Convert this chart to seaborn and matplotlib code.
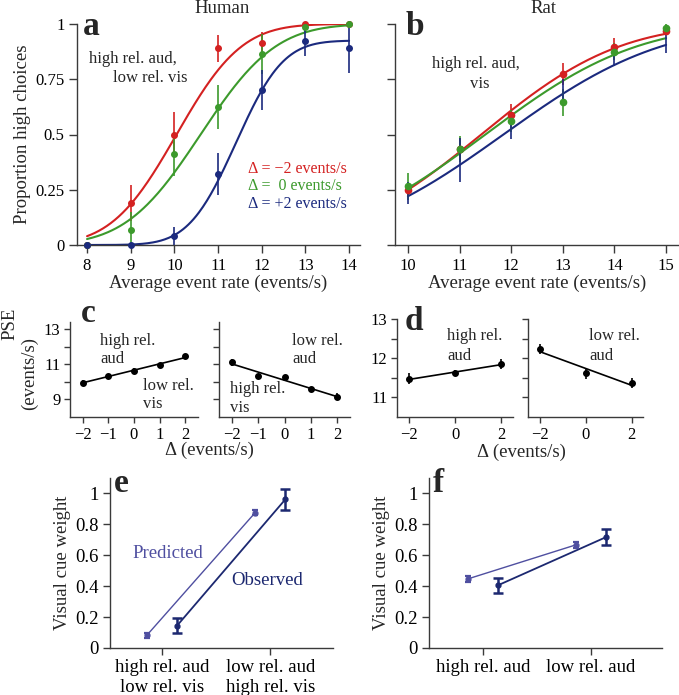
"""
Multisensory rate discrimination: human vs rat psychometric curves,
PSE shifts and visual cue weights
"""

import math
import numpy as np
import pandas as pd
import matplotlib
matplotlib.use("Agg")
import matplotlib.pyplot as plt
import seaborn as sns

# ==================== DATA ====================
# a: human psychometric data (proportion "high" choices)
human_rates = [8, 9, 10, 11, 12, 13, 14]
human_minus2 = [0.0, 0.19, 0.50, 0.89, 0.915, 1.0, 1.0]
human_minus2_err = [0.0, 0.08, 0.10, 0.06, 0.05, 0.0, 0.0]
human_zero = [0.0, 0.07, 0.41, 0.625, 0.865, 0.985, 1.0]
human_zero_err = [0.0, 0.08, 0.10, 0.10, 0.09, 0.02, 0.0]
human_plus2 = [0.0, 0.0, 0.04, 0.32, 0.70, 0.925, 0.89]
human_plus2_err = [0.0, 0.0, 0.04, 0.095, 0.09, 0.07, 0.11]
# fitted cumulative gaussians (mean, width, upper asymptote)
human_fit_mu = [10.05, 10.6, 11.41]
human_fit_sigma = [1.17, 1.35, 0.85]
human_fit_top = [1.0, 1.0, 0.925]

# b: rat psychometric data
rat_rates = [10, 11, 12, 13, 14, 15]
rat_minus2 = [0.25, 0.435, 0.59, 0.775, 0.895, 0.97]
rat_minus2_err = [0.03, 0.05, 0.05, 0.05, 0.04, 0.02]
rat_zero = [0.265, 0.435, 0.56, 0.645, 0.875, 0.98]
rat_zero_err = [0.06, 0.06, 0.05, 0.06, 0.04, 0.02]
rat_plus2 = [0.235, 0.385, 0.53, 0.69, 0.84, 0.91]
rat_plus2_err = [0.05, 0.10, 0.05, 0.06, 0.03, 0.04]
rat_fit_mu = [11.42, 11.5, 11.85]
rat_fit_sigma = [2.1, 2.3, 2.4]
rat_fit_top = [1.0, 1.0, 1.0]

conditions = ['Δ = −2 events/s', 'Δ =  0 events/s', 'Δ = +2 events/s']

# c: human PSE vs conflict
delta_c = [-2, -1, 0, 1, 2]
pse_c_aud = [9.95, 10.35, 10.62, 10.95, 11.44]
pse_c_aud_err = [0.13, 0.10, 0.14, 0.12, 0.12]
pse_c_vis = [11.1, 10.33, 10.26, 9.6, 9.15]
pse_c_vis_err = [0.2, 0.12, 0.15, 0.1, 0.2]

# d: rat PSE vs conflict
delta_d = [-2, 0, 2]
pse_d_high = [11.47, 11.62, 11.85]
pse_d_high_err = [0.14, 0.08, 0.12]
pse_d_low = [12.23, 11.62, 11.37]
pse_d_low_err = [0.13, 0.14, 0.12]

# e, f: visual cue weights
human_cats = ['high rel. aud\nlow rel. vis', 'low rel. aud\nhigh rel. vis']
human_pred = [0.082, 0.875]
human_pred_err = [0.015, 0.017]
human_obs = [0.145, 0.962]
human_obs_err = [0.05, 0.07]

rat_cats = ['high rel. aud', 'low rel. aud']
rat_pred = [0.447, 0.667]
rat_pred_err = [0.02, 0.022]
rat_obs = [0.406, 0.717]
rat_obs_err = [0.047, 0.05]

# ==================== STYLE ====================
sns.set_theme(style="ticks")
plt.rcParams['font.family'] = ['Liberation Serif', 'DejaVu Serif']
plt.rcParams['axes.edgecolor'] = '#3a3a3a'
plt.rcParams['xtick.color'] = '#3a3a3a'
plt.rcParams['ytick.color'] = '#3a3a3a'
plt.rcParams['xtick.labelcolor'] = 'black'
plt.rcParams['ytick.labelcolor'] = 'black'

COLORS = ['#d42121', '#3c9a2c', '#1b2a7e']
PRED_COLOR = '#4f4fa0'
OBS_COLOR = '#1c2870'
TICK_FS = 12
LABEL_FS = 13.5
NOTE_FS = 12

W, H = 679, 695
fig = plt.figure(figsize=(W / 100, H / 100), dpi=100)


def box(l, t, r, b):
    return fig.add_axes([l / W, 1 - b / H, (r - l) / W, (b - t) / H])


def ftext(x, y, s, **kw):
    kw.setdefault('va', 'baseline')
    fig.text(x / W, 1 - y / H, s, **kw)


def style(ax, ticklen=6, fs=TICK_FS):
    sns.despine(ax=ax)
    ax.tick_params(direction='out', length=ticklen, width=1, labelsize=fs, pad=3)
    for s in ['left', 'bottom']:
        ax.spines[s].set_linewidth(1)
    ax.set_facecolor('white')


def cum_gauss(x, mu, sigma, top):
    erf = np.vectorize(math.erf)
    return top * 0.5 * (1 + erf((x - mu) / (sigma * math.sqrt(2))))


def psych_panel(ax, rates, series, errs, mus, sigmas, tops, sizes):
    grid = np.linspace(rates[0], rates[-1], 200)
    curves = pd.concat([
        pd.DataFrame({'rate': grid, 'p': cum_gauss(grid, m, s, t), 'cond': c})
        for c, m, s, t in zip(conditions, mus, sigmas, tops)
    ])
    sns.lineplot(data=curves, x='rate', y='p', hue='cond', palette=COLORS,
                 estimator=None, legend=False, linewidth=1.5, ax=ax)
    for vals, err, col, ms in zip(series, errs, COLORS, sizes):
        ax.errorbar(rates, vals, yerr=err, fmt='o', ms=ms, color=col,
                    elinewidth=1.2, capsize=0, clip_on=False, zorder=3)
    ax.set_ylim(0, 1.0)
    ax.set_yticks([0, 0.25, 0.5, 0.75, 1])
    ax.set_xticks(rates)
    ax.set_xlabel('Average event rate (events/s)', fontsize=LABEL_FS, labelpad=1)
    ax.set_ylabel('')


# ==================== a: HUMAN ====================
ax_a = box(77, 24, 360, 245)
psych_panel(ax_a, human_rates, [human_minus2, human_zero, human_plus2],
            [human_minus2_err, human_zero_err, human_plus2_err],
            human_fit_mu, human_fit_sigma, human_fit_top, [4, 4, 4])
ax_a.set_xlim(7.77, 14.25)
ax_a.set_yticklabels(['0', '0.25', '0.5', '0.75', '1'])
ax_a.set_ylabel('Proportion high choices', fontsize=LABEL_FS, labelpad=3)
style(ax_a)
ftext(222, 13, 'Human', ha='center', fontsize=LABEL_FS)
ftext(83, 35, 'a', fontsize=24, fontweight='bold')
ftext(89, 63, 'high rel. aud,', fontsize=NOTE_FS)
ftext(113, 82, 'low rel. vis', fontsize=NOTE_FS)
for i, (lab, col) in enumerate(zip(conditions, COLORS)):
    ftext(248, 173 + i * 17.5, lab, color=col, fontsize=11.5)

# ==================== b: RAT ====================
ax_b = box(395, 24, 679, 245)
psych_panel(ax_b, rat_rates, [rat_minus2, rat_zero, rat_plus2],
            [rat_minus2_err, rat_zero_err, rat_plus2_err],
            rat_fit_mu, rat_fit_sigma, rat_fit_top, [4.5, 4.5, 0])
ax_b.set_xlim(9.75, 15.25)
ax_b.set_yticklabels([])
style(ax_b)
ftext(543, 13, 'Rat', ha='center', fontsize=LABEL_FS)
ftext(406, 35, 'b', fontsize=24, fontweight='bold')
ftext(432, 68, 'high rel. aud,', fontsize=NOTE_FS)
ftext(480, 88, 'vis', ha='center', fontsize=NOTE_FS)


# ==================== c / d: PSE ====================
def pse_panel(ax, deltas, vals, errs, ylim, yticks, ylabels):
    sns.regplot(x=deltas, y=vals, ci=None, scatter=False, truncate=True,
                line_kws={'color': 'black', 'linewidth': 1.2}, ax=ax)
    ax.errorbar(deltas, vals, yerr=errs, fmt='o', ms=4, color='black',
                elinewidth=1.2, capsize=0, zorder=3)
    ax.set_xlim(-2.5, 2.5)
    ax.set_ylim(*ylim)
    ax.set_xticks(deltas)
    ax.set_xticklabels([str(d).replace('-', '−') for d in deltas])
    ax.set_yticks(yticks)
    ax.set_yticklabels(ylabels)
    style(ax, ticklen=4)


c_ticks = [9, 10, 11, 12, 13]
ax_c1 = box(70, 322, 198, 417)
pse_panel(ax_c1, delta_c, pse_c_aud, pse_c_aud_err, (8, 13.4), c_ticks,
          ['9', '', '11', '', '13'])
ax_c2 = box(219, 322, 350, 417)
pse_panel(ax_c2, delta_c, pse_c_vis, pse_c_vis_err, (8, 13.4), c_ticks, [])
ftext(81, 322, 'c', fontsize=24, fontweight='bold')
ftext(100, 345, 'high rel.', fontsize=NOTE_FS)
ftext(100, 363, 'aud', fontsize=NOTE_FS)
ftext(143, 390, 'low rel.', fontsize=NOTE_FS)
ftext(143, 408, 'vis', fontsize=NOTE_FS)
ftext(292, 345, 'low rel.', fontsize=NOTE_FS)
ftext(292, 363, 'aud', fontsize=NOTE_FS)
ftext(230, 393, 'high rel.', fontsize=NOTE_FS)
ftext(230, 412, 'vis', fontsize=NOTE_FS)
ftext(209, 455, 'Δ (events/s)', ha='center', fontsize=LABEL_FS)
ftext(10, 324, 'PSE', ha='center', va='center', rotation=90, fontsize=LABEL_FS)
ftext(29, 374, '(events/s)', ha='center', va='center', rotation=90, fontsize=LABEL_FS)

d_ticks = [11, 11.5, 12, 12.5, 13]
ax_d1 = box(397, 319, 513, 417)
pse_panel(ax_d1, delta_d, pse_d_high, pse_d_high_err, (10.5, 13), d_ticks,
          ['11', '', '12', '', '13'])
ax_d2 = box(528, 319, 643, 417)
pse_panel(ax_d2, delta_d, pse_d_low, pse_d_low_err, (10.5, 13), d_ticks, [])
ftext(405, 330, 'd', fontsize=24, fontweight='bold')
ftext(447, 340, 'high rel.', fontsize=NOTE_FS)
ftext(447, 360, 'aud', fontsize=NOTE_FS)
ftext(589, 340, 'low rel.', fontsize=NOTE_FS)
ftext(589, 360, 'aud', fontsize=NOTE_FS)
ftext(521, 457, 'Δ (events/s)', ha='center', fontsize=LABEL_FS)

# ==================== e / f: CUE WEIGHTS ====================
OFFSET = 0.14


def weight_panel(ax, cats, pred, pred_err, obs, obs_err, xlim):
    pos = np.arange(len(cats))
    sns.lineplot(x=pos - OFFSET, y=pred, color=PRED_COLOR, linewidth=1.0, ax=ax)
    sns.lineplot(x=pos + OFFSET, y=obs, color=OBS_COLOR, linewidth=1.3, ax=ax)
    ax.errorbar(pos - OFFSET, pred, yerr=pred_err, fmt='o', ms=3.5, color=PRED_COLOR,
                elinewidth=1.6, capsize=2.5, capthick=1.6, zorder=3)
    ax.errorbar(pos + OFFSET, obs, yerr=obs_err, fmt='o', ms=3.5, color=OBS_COLOR,
                elinewidth=1.8, capsize=3.5, capthick=1.8, zorder=3)
    ax.set_xlim(*xlim)
    ax.set_ylim(0, 1.1)
    ax.set_xticks(pos)
    ax.set_xticklabels(cats, linespacing=1.25)
    ax.set_yticks([0, 0.2, 0.4, 0.6, 0.8, 1])
    ax.set_yticklabels(['0', '0.2', '0.4', '0.6', '0.8', '1'])
    style(ax, ticklen=5, fs=13.5)
    ax.set_ylabel('Visual cue weight', fontsize=LABEL_FS, labelpad=3)


ax_e = box(110, 478, 333, 648)
weight_panel(ax_e, human_cats, human_pred, human_pred_err, human_obs, human_obs_err,
             (-0.48, 1.58))
ftext(114, 492, 'e', fontsize=24, fontweight='bold')
ftext(132, 558, 'Predicted', color=PRED_COLOR, fontsize=13.5)
ftext(231, 585, 'Observed', color=OBS_COLOR, fontsize=13.5)

ax_f = box(429, 478, 662, 648)
weight_panel(ax_f, rat_cats, rat_pred, rat_pred_err, rat_obs, rat_obs_err,
             (-0.5, 1.66))
ftext(433, 492, 'f', fontsize=24, fontweight='bold')

plt.savefig('out.png', dpi=100)
plt.close()
